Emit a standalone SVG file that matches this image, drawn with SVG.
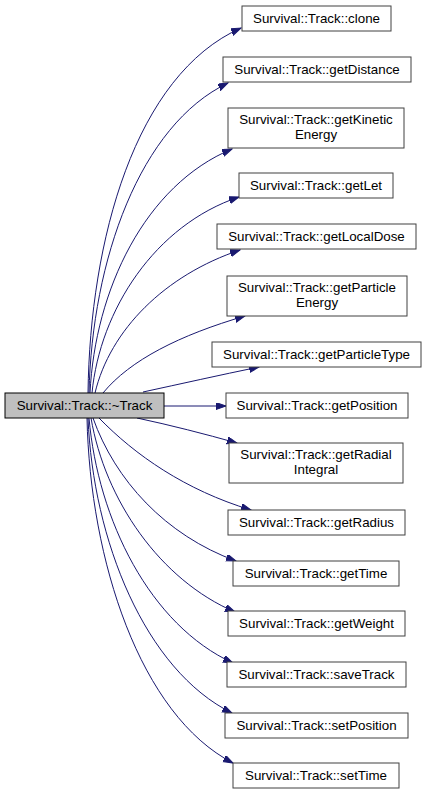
<svg xmlns="http://www.w3.org/2000/svg" width="427" height="795" viewBox="0 0 427 795">
<style>
.n rect{fill:#fff;stroke:#404040;stroke-width:1}
.n text{font-family:"Liberation Sans",Arial,sans-serif;font-size:13.33px;fill:#000;text-anchor:middle}
.e path{fill:none;stroke:#191970;stroke-width:1;marker-end:url(#ah)}
</style>
<defs>
<marker id="ah" markerUnits="userSpaceOnUse" markerWidth="11" markerHeight="8" refX="10" refY="3.5" orient="auto">
<path d="M0,0 L10,3.5 L0,7 z" fill="#191970" stroke="#191970" stroke-width="1"/>
</marker>
</defs>
<rect width="427" height="795" fill="#fff"/>
<g id="edges" class="e">
<path d="M88,393 C90,240 135,75 241,28"/>
<path d="M89,393 C92,260 140,125 228,83"/>
<path d="M90,393 C95,290 145,185 232,149"/>
<path d="M92,393 C100,310 155,225 239,197"/>
<path d="M95,393 C110,330 165,275 240,250"/>
<path d="M103,393 C130,360 180,335 245,316"/>
<path d="M143,392 C180,384 220,375 259,367"/>
<path d="M164,406 L226,406"/>
<path d="M137,418 C170,425 205,434 237,443"/>
<path d="M99,418 C135,455 185,490 251,510"/>
<path d="M93,418 C115,480 165,535 236,561"/>
<path d="M91,418 C105,500 160,580 235,612"/>
<path d="M89,418 C98,520 150,625 233,663"/>
<path d="M88,418 C93,540 145,670 232,713"/>
<path d="M87,418 C90,560 140,715 233,763"/>
</g>
<g id="main" class="n"><rect x="5" y="393" width="159" height="25" style="fill:#bfbfbf;stroke:#000"/><text x="84.5" y="410">Survival::Track::~Track</text></g>
<g id="clone" class="n"><rect x="242" y="6" width="149" height="25"/><text x="316.5" y="23">Survival::Track::clone</text></g>
<g id="getDistance" class="n"><rect x="223" y="57" width="188" height="25"/><text x="317" y="74">Survival::Track::getDistance</text></g>
<g id="getKineticEnergy" class="n"><rect x="228" y="108" width="176" height="40"/><text x="316" y="124">Survival::Track::getKinetic</text><text x="316" y="139">Energy</text></g>
<g id="getLet" class="n"><rect x="239" y="173" width="154" height="25"/><text x="316" y="190">Survival::Track::getLet</text></g>
<g id="getLocalDose" class="n"><rect x="217" y="224" width="199" height="25"/><text x="316.5" y="241">Survival::Track::getLocalDose</text></g>
<g id="getParticleEnergy" class="n"><rect x="227" y="276" width="180" height="40"/><text x="317" y="292">Survival::Track::getParticle</text><text x="317" y="307">Energy</text></g>
<g id="getParticleType" class="n"><rect x="212" y="342" width="209" height="25"/><text x="316.5" y="359">Survival::Track::getParticleType</text></g>
<g id="getPosition" class="n"><rect x="226" y="393" width="182" height="25"/><text x="317" y="410">Survival::Track::getPosition</text></g>
<g id="getRadialIntegral" class="n"><rect x="229" y="443" width="174" height="40"/><text x="316" y="459">Survival::Track::getRadial</text><text x="316" y="474">Integral</text></g>
<g id="getRadius" class="n"><rect x="228" y="510" width="177" height="25"/><text x="316.5" y="527">Survival::Track::getRadius</text></g>
<g id="getTime" class="n"><rect x="233" y="561" width="166" height="25"/><text x="316" y="578">Survival::Track::getTime</text></g>
<g id="getWeight" class="n"><rect x="228" y="611" width="177" height="25"/><text x="316.5" y="628">Survival::Track::getWeight</text></g>
<g id="saveTrack" class="n"><rect x="227" y="662" width="179" height="25"/><text x="316.5" y="679">Survival::Track::saveTrack</text></g>
<g id="setPosition" class="n"><rect x="225" y="713" width="183" height="25"/><text x="316.5" y="730">Survival::Track::setPosition</text></g>
<g id="setTime" class="n"><rect x="233" y="763" width="166" height="25"/><text x="316" y="780">Survival::Track::setTime</text></g>
</svg>
